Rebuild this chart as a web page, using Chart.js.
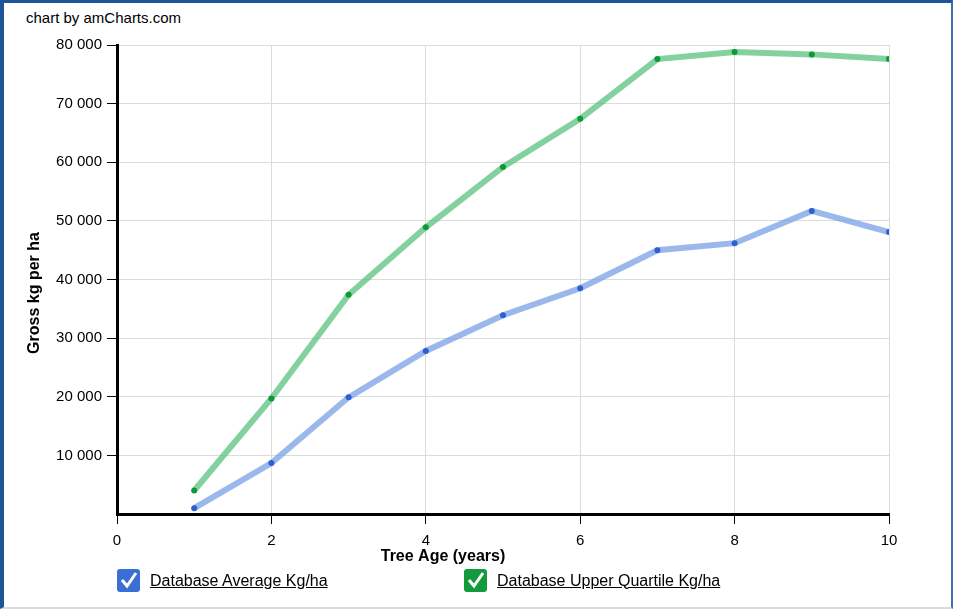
<!DOCTYPE html>
<html>
<head>
<meta charset="utf-8">
<script src="https://cdn.jsdelivr.net/npm/chart.js@4.4.1/dist/chart.umd.min.js"></script>
<style>
  body { margin: 0; background: #fff; font-family: Arial, "Liberation Sans", sans-serif; }
  #frame {
    position: absolute; left: 0; top: 0; width: 947px; height: 604px;
    border-left: 4px solid #1d5697; border-top: 3px solid #1d5697;
    border-right: 2px solid #3b6fae; border-bottom: 2px solid #d3dbe6;
  }
  #credit { position: absolute; left: 26px; top: 9px; font-size: 15px; color: #000; }
  canvas { position: absolute; left: 0; top: 0; }
  .leg { position: absolute; top: 569px; height: 23px; display: flex; align-items: center; font-size: 16px; }
  .box { width: 23px; height: 23px; border-radius: 3px; margin-right: 10px; }
  .leg span { text-decoration: underline; color: #000; }
</style>
</head>
<body>
<div id="frame"></div>
<div id="credit">chart by amCharts.com</div>
<canvas id="chart" width="953" height="609"></canvas>
<div class="leg" style="left:117px">
  <svg class="box" viewBox="0 0 23 23" style="background:#3a6fd8"><polyline points="5,11 10,17 19,4" fill="none" stroke="#fff" stroke-width="3"/></svg>
  <span>Database Average Kg/ha</span>
</div>
<div class="leg" style="left:464px">
  <svg class="box" viewBox="0 0 23 23" style="background:#129a3c"><polyline points="5,11 10,17 19,4" fill="none" stroke="#fff" stroke-width="3"/></svg>
  <span>Database Upper Quartile Kg/ha</span>
</div>
<script>
const treeAge = [1, 2, 3, 4, 5, 6, 7, 8, 9, 10];
const averageKg = [1000, 8700, 19900, 27800, 33900, 38500, 45000, 46200, 51700, 48100];
const upperQuartileKg = [4000, 19700, 37400, 48900, 59200, 67400, 77600, 78800, 78400, 77600];

const xTitle = 'Tree Age (years)';
const yTitle = 'Gross kg per ha';

function fmt(v) {
  return String(v).replace(/\B(?=(\d{3})+(?!\d))/g, ' ');
}

// axis titles are not centred on the plot in the original, so draw them here
const titles = {
  id: 'titles',
  afterDraw(chart) {
    const ctx = chart.ctx;
    ctx.save();
    ctx.fillStyle = '#000';
    ctx.font = 'bold 16px Arial, "Liberation Sans"';
    ctx.textAlign = 'center';
    ctx.textBaseline = 'middle';
    ctx.fillText(xTitle, 443, 557);
    ctx.translate(35, 293);
    ctx.rotate(-Math.PI / 2);
    ctx.fillText(yTitle, 0, 0);
    ctx.restore();
  }
};

const tickFont = { family: 'Arial, "Liberation Sans"', size: 15 };

new Chart(document.getElementById('chart'), {
  type: 'line',
  data: {
    datasets: [
      {
        label: 'Database Average Kg/ha',
        data: treeAge.map((x, i) => ({ x: x, y: averageKg[i] })),
        borderColor: 'rgba(120,160,230,0.75)',
        borderWidth: 6,
        pointRadius: 3,
        pointBorderWidth: 0,
        pointBackgroundColor: '#2f5fd0',
        tension: 0
      },
      {
        label: 'Database Upper Quartile Kg/ha',
        data: treeAge.map((x, i) => ({ x: x, y: upperQuartileKg[i] })),
        borderColor: 'rgba(80,190,120,0.7)',
        borderWidth: 6,
        pointRadius: 3,
        pointBorderWidth: 0,
        pointBackgroundColor: '#0c9a36',
        tension: 0
      }
    ]
  },
  options: {
    responsive: false,
    animation: false,
    layout: { padding: { left: 0, top: 45, right: 64, bottom: 49 } },
    plugins: { legend: { display: false }, tooltip: { enabled: false } },
    scales: {
      x: {
        type: 'linear',
        min: 0,
        max: 10,
        afterFit: s => { s.height = 46; },
        ticks: { stepSize: 2, color: '#000', font: tickFont, padding: 8, maxRotation: 0 },
        grid: { color: '#dcdcdc', tickColor: '#000', tickLength: 10, lineWidth: 1 },
        border: { color: '#000', width: 3 }
      },
      y: {
        min: 0,
        max: 80000,
        afterFit: s => { s.width = 117; },
        ticks: {
          stepSize: 10000, color: '#000', font: tickFont, padding: 5,
          callback: v => v === 0 ? '' : fmt(v)
        },
        grid: {
          color: '#dcdcdc', lineWidth: 1, tickLength: 10,
          tickColor: c => (c.tick && c.tick.value === 0) ? 'rgba(0,0,0,0)' : '#000'
        },
        border: { color: '#000', width: 3 }
      }
    }
  },
  plugins: [titles]
});
</script>
</body>
</html>
